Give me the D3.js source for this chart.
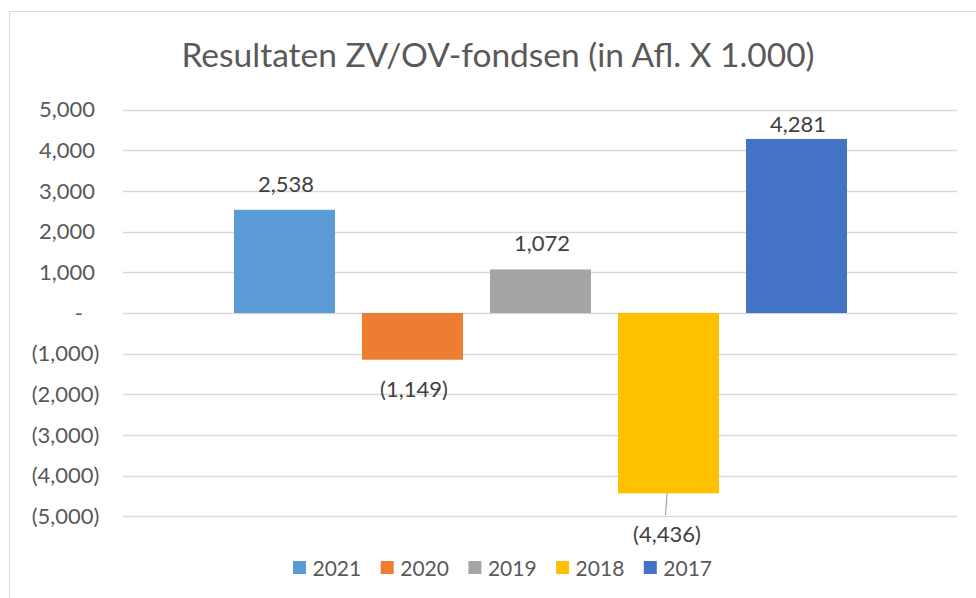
<!DOCTYPE html>
<html>
<head>
<meta charset="utf-8">
<script src="https://cdn.jsdelivr.net/npm/d3@7"></script>
<style>
  body { margin: 0; background: #fff; }
  svg { display: block; font-family: Lato, "Liberation Sans", sans-serif; }
</style>
</head>
<body>
<script>
// chart values
var years = ['2021', '2020', '2019', '2018', '2017'];
var results = [2538, -1149, 1072, -4436, 4281];
var colors = ['#5B9BD5', '#ED7D31', '#A5A5A5', '#FFC000', '#4472C4'];
var ticks = [5000, 4000, 3000, 2000, 1000, 0, -1000, -2000, -3000, -4000, -5000];
var title = 'Resultaten ZV/OV-fondsen (in Afl. X 1.000)';

var width = 976;
var height = 598;

var svg = d3.select('body')
  .append('svg')
  .attr('width', width)
  .attr('height', height);

// outer chart border, runs off the right and bottom edge
svg.append('rect')
  .attr('x', 9.5)
  .attr('y', 11.5)
  .attr('width', 1000)
  .attr('height', 620)
  .attr('fill', 'none')
  .attr('stroke', '#d9d9d9');

svg.append('text')
  .attr('x', 498)
  .attr('y', 66.5)
  .attr('text-anchor', 'middle')
  .attr('font-size', 33.5)
  .attr('fill', '#595959')
  .text(title);

var y = d3.scaleLinear()
  .domain([-5000, 5000])
  .range([516.3, 109.7]);

// one category, five series side by side
var x = d3.scaleBand()
  .domain(years)
  .range([220.5, 860.5])
  .paddingInner(27 / 128)
  .paddingOuter(27 / 256);

var fmt = d3.format(',');
function label(v) {
  if (v === 0) return '-';
  return v < 0 ? '(' + fmt(-v) + ')' : fmt(v);
}

// gridlines
svg.append('g')
  .selectAll('line')
  .data(ticks)
  .enter()
  .append('line')
  .attr('x1', 123)
  .attr('x2', 957)
  .attr('y1', function(d) { return Math.round(y(d)) + 0.5; })
  .attr('y2', function(d) { return Math.round(y(d)) + 0.5; })
  .attr('stroke', '#d9d9d9')
  .attr('stroke-width', 1.3);

// y axis labels
var yAxis = svg.append('g')
  .attr('transform', 'translate(95,0)')
  .call(d3.axisLeft(y).tickValues(ticks).tickSize(0).tickPadding(0).tickFormat(label));
yAxis.select('.domain').remove();
yAxis.selectAll('text')
  .attr('font-family', 'Lato, "Liberation Sans", sans-serif')
  .attr('font-size', 22)
  .attr('fill', '#595959')
  .attr('x', function(d) { return d < 0 ? 4.5 : (d === 0 ? -12 : 0); });

var data = years.map(function(yr, i) {
  return { year: yr, value: results[i], color: colors[i] };
});

svg.append('g')
  .selectAll('rect')
  .data(data)
  .enter()
  .append('rect')
  .attr('x', function(d) { return x(d.year); })
  .attr('width', x.bandwidth())
  .attr('y', function(d) { return y(Math.max(0, d.value)); })
  .attr('height', function(d) { return Math.abs(y(d.value) - y(0)); })
  .attr('fill', function(d) { return d.color; });

// data labels (the top one is kept inside the plot, the deep one was dragged below)
svg.append('g')
  .selectAll('text')
  .data(data)
  .enter()
  .append('text')
  .attr('x', function(d) { return x(d.year) + x.bandwidth() / 2 + (d.value < -3000 ? -1.5 : 1.5); })
  .attr('y', function(d) {
    if (d.value >= 0) return Math.max(y(d.value) - 18, 131.5);
    return d.value < -3000 ? 542 : y(d.value) + 37;
  })
  .attr('text-anchor', 'middle')
  .attr('font-size', 22)
  .attr('fill', '#404040')
  .text(function(d) { return label(d.value); });

// leader line for the (4,436) label
var low = data[3];
svg.append('line')
  .attr('x1', x(low.year) + x.bandwidth() / 2 - 1.5)
  .attr('x2', x(low.year) + x.bandwidth() / 2 - 3)
  .attr('y1', y(low.value))
  .attr('y2', 515)
  .attr('stroke', '#a6a6a6')
  .attr('stroke-width', 1.2);

// legend
var legend = svg.append('g')
  .selectAll('g')
  .data(data)
  .enter()
  .append('g')
  .attr('transform', function(d, i) { return 'translate(' + (293 + i * 87.7) + ',561)'; });

legend.append('rect')
  .attr('width', 13)
  .attr('height', 13)
  .attr('fill', function(d) { return d.color; });

legend.append('text')
  .attr('x', 19.5)
  .attr('y', 14.5)
  .attr('font-size', 21)
  .attr('fill', '#595959')
  .text(function(d) { return d.year; });
</script>
</body>
</html>
